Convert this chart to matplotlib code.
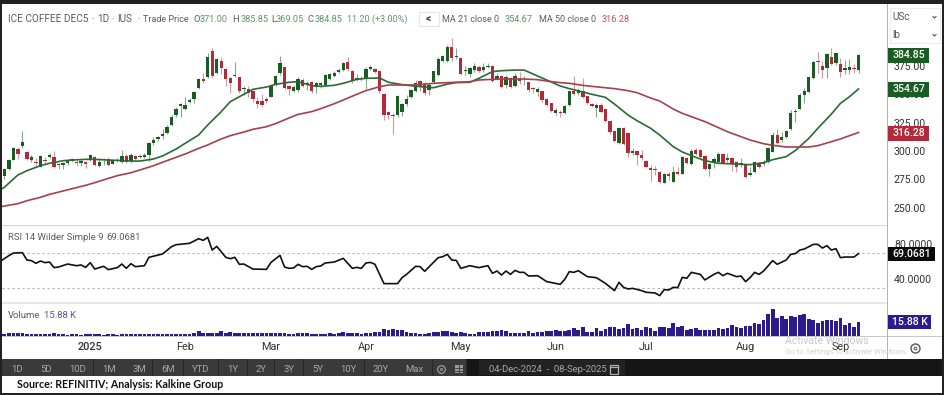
import matplotlib
matplotlib.use("Agg")
import matplotlib.pyplot as plt
from matplotlib.patches import Rectangle

# candles, oldest first (04-Dec-2024 to 08-Sep-2025)
opens = [277.9,284.1,292.3,301.7,304.4,299.4,292.3,290,286.1,291.7,295,294.4,287.6,287.9,289,293.2,290.6,289.4,290.3,291.7,
 294.4,286.7,291.7,293.2,288.8,290.9,290.6,295.3,291.1,295.6,294.4,294.7,296.7,307.3,310.9,313.5,316.1,322.9,332,339.7,
 337.3,343.2,345.8,355.3,363.5,365.3,388.2,368.5,379.1,372.3,364.1,365.8,365.6,354.7,354.7,352.9,344.1,344.1,345.6,347.9,
 358.5,369.1,373.8,357.3,353.2,353.5,362.6,359.1,360.6,356.1,357.9,358.2,363.8,366.1,369.7,371.4,378.5,370.8,362.6,364.1,
 363.2,372.3,372,370.8,350.6,334.7,331.7,332,334.7,341.4,347.9,353.2,362,359.1,353.8,360.8,367.3,379.4,379.7,392,
 383.2,382.3,370.3,367.9,371.1,373.8,371.7,373.8,375,363.5,365.8,358.2,364.7,357.3,363.5,362.3,360.6,355.8,352.3,352.9,
 345.8,342,333.8,334.7,333.2,340.3,353.2,350.8,352.9,348.2,341.7,337.9,340.8,336.7,326.1,317.9,306.7,320.3,316.1,297.9,
 300,296.4,291.4,284.7,283.8,281.4,272,279.4,272.9,281.1,280,293.8,288.5,301.1,301.1,295.6,284.1,289.4,290.6,297,
 291.7,294.1,290.3,288.2,287.3,278.8,281.7,289.4,288.2,290.3,299.4,314.4,309.4,312.3,319.4,334.4,337.3,349.4,351.7,364.1,
 379.4,374.7,373.5,382.6,377.6,377,371.1,371.1,373.5,371]
highs = [285.3,292.6,303.8,303.8,317.9,300.3,296.4,293.5,296.7,295,298.5,299.7,289.1,290.6,292.6,293.8,292,292.6,291.1,297,
 295.6,294.1,294.1,295,292,294.1,300.6,297,297.9,296.4,297,297.9,308.2,312.3,313.2,319.1,322.6,331.7,338.8,342.6,
 347.9,346.4,352.9,364.1,368.5,386.1,391.1,381.7,382.6,372.9,365,378.8,365.6,357.3,357.3,353.8,347.9,350,347.9,358.2,
 367,383.8,374.4,358.2,358.2,365,364.1,362,361.7,361.1,361.1,367.9,369.1,370.8,372.9,378.5,382.6,371.4,367.9,366.1,
 373.8,375.8,372.9,371.4,350.8,335.6,333.2,349.4,342,349.4,354.4,362.6,362.6,361.1,359.7,370.8,382.6,384.7,393.2,400,
 391.1,382.3,375.3,374.4,377.6,375.8,377.6,377.3,375.8,368.5,367,367,365.3,368.5,370,366.4,360.6,356.7,356.7,352.9,
 346.4,342.6,337.6,336.1,340.6,353.2,366.4,355.8,364.1,348.8,342.6,342,342,337.3,326.7,318.5,320.9,320.9,316.7,302.3,
 301.1,300.8,292,287.6,287,282.3,280.3,281.1,287,286.1,295.6,295,301.4,302.3,301.7,296.4,289.1,295,298.8,297.9,
 298.5,295,291.1,294.1,288.2,286.1,291.1,290.6,291.7,302.9,317,319.4,316.4,318.5,336.1,337,350.8,355.3,365.6,379.4,
 387,379.4,386.1,390.6,387.6,381.7,380.3,381.1,376.4,385.85]
lows = [275.6,283.2,291.7,292.6,302.3,292,290.3,287,286.1,287.6,294.1,285.3,283.8,283.8,287.6,290,287,286.4,284.7,291.1,
 287,286.1,287.6,287,288.2,290,289.7,289.7,289.7,292,293.5,293.5,291.1,305.3,308.8,310.6,315,322.3,329.7,330.3,
 336.1,342,342,354.7,359.7,364.7,364.7,367.9,367.9,357.3,350.8,365,350.8,349.4,347.9,343.5,337.6,338.5,342,347.3,
 357.3,367,354.4,349.4,352.3,352.3,356.1,353.8,350.8,350.8,355.3,357.3,362.6,365,368.5,370.8,370.8,359.7,361.4,362,
 354.4,371.4,368.5,351.4,327.3,327.9,315,330.3,330.8,339.7,346.4,352.3,353.2,349.4,349.4,359.7,366.1,378.5,378.8,379.4,
 381.1,367,367,365.6,369.4,369.4,370,372.9,360.6,362.6,355.8,355.8,355.8,356.4,358.8,358.2,351.7,350.8,348.8,343.5,
 339.7,334.1,331.7,330,332.3,339.7,349.4,349.4,346.4,341.7,338.5,330.3,333.8,325.9,314.7,307.6,305.8,305.3,294.7,296.4,
 287.6,292,284.7,273.8,278.8,271.4,271.4,274.4,272.3,278.8,279.4,288.5,287.6,296.4,294.1,283.2,278.2,285.3,289.7,288.8,
 290.6,282.3,281.7,286.1,275.8,277.9,280.8,284.7,287,289.7,298.8,306.1,308.2,311.1,318.5,325.3,336.7,342,350.8,363.2,
 368.5,364.7,364.7,375.8,375.8,365.6,367.6,367.6,368.5,369.05]
closes = [283.8,292,302.6,297,308.2,292.6,294.4,289.1,295.6,291.1,296.2,285.8,288.2,289.4,291.4,291.1,289.7,291.4,288.8,296.2,
 287.9,290,292.9,287.6,291.4,291.7,295.3,290.3,296.7,292.9,295.8,296.7,307.3,310,312.3,315,321.4,330.3,337,341.4,
 340.6,344.7,351.7,363.2,361.4,382.6,366.4,380.8,372.9,363.5,360,367.3,352.9,355.3,351.4,345.6,341.4,340.3,344.1,357.3,
 365.8,377.9,355.6,354.4,356.7,363.8,357.3,359.7,353.2,359.7,360.3,366.7,367.9,369.1,371.4,377.3,372,361.4,364.4,363.2,
 372.6,373.8,370,352.6,331.7,331.7,330.6,348.5,341.1,345.6,353.8,360.3,357.3,350.8,358.5,370.3,381.4,383.8,392,381.7,
 384.1,368.2,371.4,373.5,375.3,370.8,374.1,374.7,361.7,366.4,356.7,365.3,356.7,365.8,361.4,362.9,353.8,354.4,355,345,
 340.6,335.3,336.4,333.8,339.7,352.6,350.6,353.5,347.3,342.6,339.7,340.8,334.7,326.7,317,308.8,320.3,305.8,298.2,299.7,
 296.4,293.5,285.6,282.9,283.2,272.3,279.7,278.2,281.4,279.7,294.7,289.4,300.3,297.6,295,284.1,288.5,293.2,297,289.4,
 293.8,288.2,285.6,289.4,276.7,280.8,290.6,285.6,290.6,302.3,313.8,307.3,312.3,317.9,333.8,335.6,349.1,353.2,365,378.5,
 378.2,371.7,385.3,377,386.1,370,373.5,374.1,372,384.85]

ma_idx = [-1,0,3,5,8,10,13,15,18,20,23,25,28,30,33,35,38,40,43,45,48,50,53,55,58,60,63,65,68,70,73,75,78,80,83,85,88,90,93,95,98,100,103,105,108,110,113,115,118,120,123,125,128,130,133,135,138,140,143,145,148,150,153,155,158,160,163,165,168,170,173,175,178,180,183,185,187,189]
ma21 = [265.6,267.9,278.8,282.6,287,289.1,291.4,292,292.6,292.6,292,291.7,291.1,291.1,292.9,295.6,301.7,306.7,314.1,322.9,334.7,343.5,350,354.4,356.4,358.8,360.6,361.1,357.6,357,357.9,359.7,363.2,364.1,364.4,360.6,358.5,357.6,356.4,355.8,359,360.3,360.6,364.1,370,370.8,371.4,371.4,366.1,362.6,357.3,355,352,350,347.3,341.4,331.7,326.7,320,314.1,303.8,299.1,294.4,291.4,289.1,288.8,288.2,287.9,289.7,292.3,295,300.3,311.1,320,332.6,342,347.9,354.67]
ma50 = [250.8,251.4,253.5,256.1,259.1,261.7,264.7,266.7,269.7,272,275.8,278.2,280.8,283.2,287,290,294.4,297.3,302.3,305.3,310.6,313.5,316.7,319.1,321.4,324.1,329.1,332.3,334.7,337.3,341.7,345,350,353.2,356.7,358.2,358.2,358.2,359,359.7,360.3,360.6,361.1,362.6,363.2,363.5,363.5,363.5,362.9,361.7,360.3,359.7,357.9,357,355.8,355,353.2,351.4,346.7,344.1,337,333.2,328.8,325.9,320.6,317,312.6,309.7,306.4,305,303.5,303.5,303.5,304.7,308.2,310.6,313.5,316.28]

rsi_idx = [-1,1,2,4,5,6,7,8,9,10,11,12,14,16,17,18,19,20,22,23,25,26,27,28,29,31,32,34,35,37,38,41,43,44,45,46,47,49,50,51,52,53,55,58,59,61,62,63,64,65,66,67,68,69,70,71,73,75,77,78,79,80,81,82,84,87,88,89,91,92,93,96,97,98,99,100,101,103,105,107,108,109,110,111,112,113,114,115,116,118,120,122,123,124,125,126,127,129,131,133,135,136,137,138,139,141,142,144,145,146,147,148,149,150,151,152,154,155,157,158,159,160,162,163,164,165,166,167,168,170,171,173,174,175,176,177,179,180,181,182,183,184,185,186,188,189]
rsi = [59.8,66.7,69.7,70.1,61.7,61,57.9,60.6,58.7,59.4,53,53.7,57.1,55.2,56,53.3,58.7,51.4,54.5,50.7,53,57.1,52.2,57.5,54.1,55.2,64.8,67.4,68.6,77,79.2,80.8,86.1,84.2,87.6,73.1,77.3,64.8,63.2,64.8,56.8,57.1,51.4,51,59,67,53.7,52.2,52.6,56.8,54.1,54.5,51,54.1,54.9,58.3,59.4,63.6,52.2,53.3,52.2,58.3,59,56.8,34.7,34.7,41.5,45.3,54.5,54.1,48.8,64.4,65.5,68.2,61.7,61.3,52.2,55.2,53,55.2,46.5,49.1,44.6,49.1,45.3,49.9,47.6,47.6,43.4,43.8,37,35,33.9,39.6,48.4,47.6,49.5,42.7,41.5,35,26.7,36.2,30.5,28.6,29.3,26.7,24.8,24,21,27.8,27.4,30.5,30.1,41.9,40.8,47.6,45.3,38.9,45.3,47.6,43.8,46.5,42.7,43.4,37,41.5,47.6,45.3,49.1,61,56.8,61.7,68.2,69,73.1,74.3,79.6,79.6,75.4,78.1,73.1,74.7,64.4,65.1,65.1,69.07]

# volume in thousands
volume = [2.7,3.1,3.5,3.9,3.5,2.7,2.3,2.3,1.9,2.3,2.3,3.1,1.9,1.9,1.5,1.9,1.9,1.5,1.9,1.9,
 1.9,1.9,1.5,1.9,1.9,1.5,1.9,1.9,2.3,1.9,2.3,2.3,1.9,2.3,1.9,1.9,2.3,2.3,1.9,2.3,
 2.7,2.3,3.1,6.2,3.9,3.5,3.5,3.5,5.4,3.9,5,3.9,3.9,3.9,3.9,3.9,3.1,3.5,3.9,3.5,
 3.5,3.1,3.1,2.7,2.3,3.1,3.1,3.1,2.7,2.3,1.9,1.9,3.1,2.7,3.5,4.3,3.9,3.5,3.1,2.7,
 3.1,3.1,4.3,4.6,8.5,7.4,8.5,6.6,6.6,5,3.9,3.5,2.7,2.7,3.9,4.3,5,5.4,5.4,5,
 3.9,4.3,3.1,2.7,2.3,4.3,4.3,4.6,5.4,6.2,7.4,6.2,3.5,3.9,3.9,3.5,5.4,3.9,4.6,5,
 6.2,5.8,6.6,5.8,6.2,7,9.3,7.4,10.8,4.6,4.6,9.7,5.4,8.5,10.4,10.8,8.5,9.3,13.9,8.5,
 9.3,7,10.8,9.3,6.2,10.8,10.8,8.9,14.7,10.1,11.6,7.4,8.1,9.3,6.6,7.4,7.4,7.4,9.3,7.7,
 9.3,13.2,10.1,9.7,11.6,11.6,15.1,13.9,19,25.2,31.7,20.9,23.2,19.4,23.2,21.7,24,25.9,20.1,18.6,
 14.7,17.4,19,18.2,17.8,21.3,12.4,15.5,10.1,15.88]

price_ticks = [250, 275, 300, 325, 350, 375]
rsi_ticks = [40, 80]
month_idx = [19, 40, 59, 80, 101, 122, 142, 164, 185]
month_labels = ["2025", "Feb", "Mar", "Apr", "May", "Jun", "Jul", "Aug", "Sep"]
buttons = ["1D","5D","10D","1M","3M","6M","YTD","1Y","2Y","3Y","5Y","10Y","20Y","Max"]

GREEN = "#1b5c24"
RED = "#b02a3a"
GREEN_TXT = "#5f9469"
RED_TXT = "#c4525e"
GREY_TXT = "#5c5c5c"
PURPLE = "#2d1a8e"

plt.rcParams["font.family"] = ["Roboto", "DejaVu Sans"]
W, H = 944, 395
fig = plt.figure(figsize=(W / 100, H / 100), dpi=100, facecolor="white")


def panel(left, top, right, bottom):
    ax = fig.add_axes([left / W, 1 - bottom / H, (right - left) / W, (bottom - top) / H])
    for s in ax.spines.values():
        s.set_visible(False)
    ax.set_xlim(-0.515, 195.3)
    ax.set_xticks([])
    ax.yaxis.tick_right()
    ax.tick_params(axis="y", length=0, pad=5, labelsize=7.6, labelcolor="#333333")
    return ax


# price panel
ax = panel(2, 4, 887, 225)
ax.set_ylim(234.67, 429.67)
ax.set_yticks(price_ticks, [f"{v:.2f}" for v in price_ticks])
for i in range(len(closes)):
    up = closes[i] >= opens[i]
    ax.vlines(i, lows[i], highs[i], color="#8aa78e" if up else "#cf9aa2", lw=0.8, zorder=2)
    ax.bar(i, abs(closes[i] - opens[i]), bottom=min(opens[i], closes[i]), width=0.74,
           color=GREEN if up else RED, zorder=3)
ax.plot(ma_idx, ma21, color="#2b6a34", lw=1.2, zorder=4)
ax.plot(ma_idx, ma50, color="#a83f4c", lw=1.2, zorder=4)

# rsi panel
ax2 = panel(2, 226, 887, 302)
ax2.set_ylim(13.7, 100.6)
ax2.set_yticks(rsi_ticks, [f"{v:.4f}" for v in rsi_ticks])
ax2.axhline(70, color="#b5b5b5", lw=0.8, ls=(0, (2, 2.5)))
ax2.axhline(30, color="#b5b5b5", lw=0.8, ls=(0, (2, 2.5)))
ax2.plot(rsi_idx, rsi, color="#111111", lw=1.2)

# volume panel
ax3 = panel(2, 304, 887, 336)
ax3.set_ylim(0, 12.4 * 3)
ax3.set_yticks([])
ax3.bar(range(len(volume)), volume, width=0.82, color=PURPLE)
ax3.set_xticks(month_idx, month_labels)
ax3.tick_params(axis="x", length=0, pad=4.5, labelsize=7.8, labelcolor="#333333")
ax3.get_xticklabels()[0].set_fontweight("medium")

# everything around the panels, in pixel coordinates
top = fig.add_axes([0, 0, 1, 1], facecolor="none")
top.set_xlim(0, W)
top.set_ylim(H, 0)
top.axis("off")


def box(x0, y0, x1, y1, color, **kw):
    top.add_patch(Rectangle((x0, y0), x1 - x0, y1 - y0, facecolor=color, edgecolor=kw.pop("edge", "none"), lw=kw.pop("lw", 0), **kw))


def label(x, y, s, color=GREY_TXT, size=7.2, **kw):
    kw.setdefault("va", "center")
    top.text(x, y, s, color=color, fontsize=size, **kw)


# frame and separators
box(0, 0, W, 3.5, "#222222")
box(0, 0, 1.8, H, "#222222")
box(941.8, 0, W, H, "#222222")
box(0, 393, W, H, "#222222")
box(2, 225, 887, 226.2, "#d4d4d4")
box(2, 302.3, 887, 304, "#e8e8e8")
box(2, 335.6, 942, 336.6, "#c8c8c8")
box(886.5, 4, 887.7, 359, "#b4b4b4")

# header line
for x, s, c, sz in [(8, "ICE COFFEE DEC5", GREY_TXT, 7.2), (91, "·", GREY_TXT, 7.2), (97, "1D", GREY_TXT, 7.2), (111, "·", GREY_TXT, 7.2),
                    (117, "IUS", GREY_TXT, 7.2), (137, "·", GREY_TXT, 7.2), (143, "Trade Price", GREY_TXT, 6.5),
                    (193, "O", GREY_TXT, 6.8), (200, "371.00", GREEN_TXT, 6.6), (232, "H", GREY_TXT, 6.8), (241, "385.85", GREEN_TXT, 6.6),
                    (271, "L", GREY_TXT, 6.8), (276, "369.05", GREEN_TXT, 6.6), (308, "C", GREY_TXT, 6.8), (315, "384.85", GREEN_TXT, 6.6),
                    (347, "11.20 (+3.00%)", GREEN_TXT, 6.5), (442, "MA 21 close 0", GREY_TXT, 6.5), (505, "354.67", GREEN_TXT, 6.6),
                    (539, "MA 50 close 0", GREY_TXT, 6.5), (602, "316.28", RED_TXT, 6.6)]:
    label(x, 19.5, s, c, sz)
box(418.5, 11.5, 438.5, 26, "white", edge="#e6e6e6", lw=0.8)
label(428.5, 19, "<", "#333333", 7.5, ha="center", fontweight="bold")
label(8, 237.5, "RSI 14 Wilder Simple 9", GREY_TXT, 6.8)
label(106, 237.5, "69.0681", GREY_TXT, 6.8)
label(8, 315, "Volume", GREY_TXT, 6.8)
label(44, 315, "15.88 K", "#5a4ea5", 6.8)

# unit selector
box(890, 8, 939.5, 43, "white", edge="#ececec", lw=0.8)
label(892.5, 17, "USc", "#555555", 7.2)
label(892.5, 35, "lb", "#555555", 7.2)
top.plot([933, 934.5, 936], [16.5, 18, 16.5], color="#555555", lw=0.8)
top.plot([933, 934.5, 936], [34.5, 36, 34.5], color="#555555", lw=0.8)

# last value tags
for y0, y1, s, c, x1 in [(48, 63, "384.85", GREEN, 928.7), (82, 97, "354.67", GREEN, 928.7), (126, 141, "316.28", RED, 928.7),
                         (247, 261, "69.0681", "#0a0a0a", 935), (315, 329, "15.88 K", PURPLE, 931)]:
    box(887.7, y0, x1, y1, c)
    label((887.7 + x1) / 2 + 0.5, (y0 + y1) / 2, s, "white", 7.6, ha="center", fontweight="medium")

# settings icon on the date axis
top.plot([915], [348], "o", ms=6.5, mfc="none", mec="#555555", mew=1)
top.plot([915], [348], "o", ms=2, mfc="none", mec="#555555", mew=0.7)

# windows watermark
label(785, 341, "Activate Windows", "#c9c9c9", 7.6)
label(785, 352, "Go to Settings to activate Windows.", "#d0d0d0", 5.6)

# toolbar
box(1.8, 359, 942, 376, "#3a3a3a")
box(466, 359, 942, 376, "#161616")
box(479, 360, 625, 375, "#222222")
centres = [50, 138, 232, 327, 417, 506, 603, 697, 782, 867, 952, 1045, 1143, 1244]
seps = [93, 183, 281, 369, 458, 551, 655, 742, 824, 910, 996, 1094, 1197, 1297, 1350, 1400]
for c, s in zip(centres, buttons):
    label(c / 3, 369, s, "#a8a8a8", 6.8, ha="center")
for s in seps:
    box(s / 3 - 0.3, 359, s / 3 + 0.3, 376, "#262626")
top.plot([441], [369], "o", ms=5.5, mfc="none", mec="#a8a8a8", mew=0.8)
top.plot([441], [369], "o", ms=1.5, mfc="none", mec="#a8a8a8", mew=0.6)
box(454.5, 365, 462.5, 373, "#9a9a9a")
top.plot([454.5, 462.5], [368, 368], color="#3a3a3a", lw=0.6)
top.plot([454.5, 462.5], [370.5, 370.5], color="#3a3a3a", lw=0.6)
top.plot([458.5, 458.5], [365, 373], color="#3a3a3a", lw=0.6)
label(489, 369, "04-Dec-2024  -  08-Sep-2025", "#a8a8a8", 6.8)
box(610, 365, 618, 373.5, "none", edge="#b0b0b0", lw=0.9)
top.plot([610, 618], [367.2, 367.2], color="#b0b0b0", lw=0.9)

label(17, 385, "Source: REFINITIV; Analysis: Kalkine Group", "#111111", 7.7, family=["Lato", "DejaVu Sans"], fontweight="bold")

fig.savefig("out.png", dpi=100)
